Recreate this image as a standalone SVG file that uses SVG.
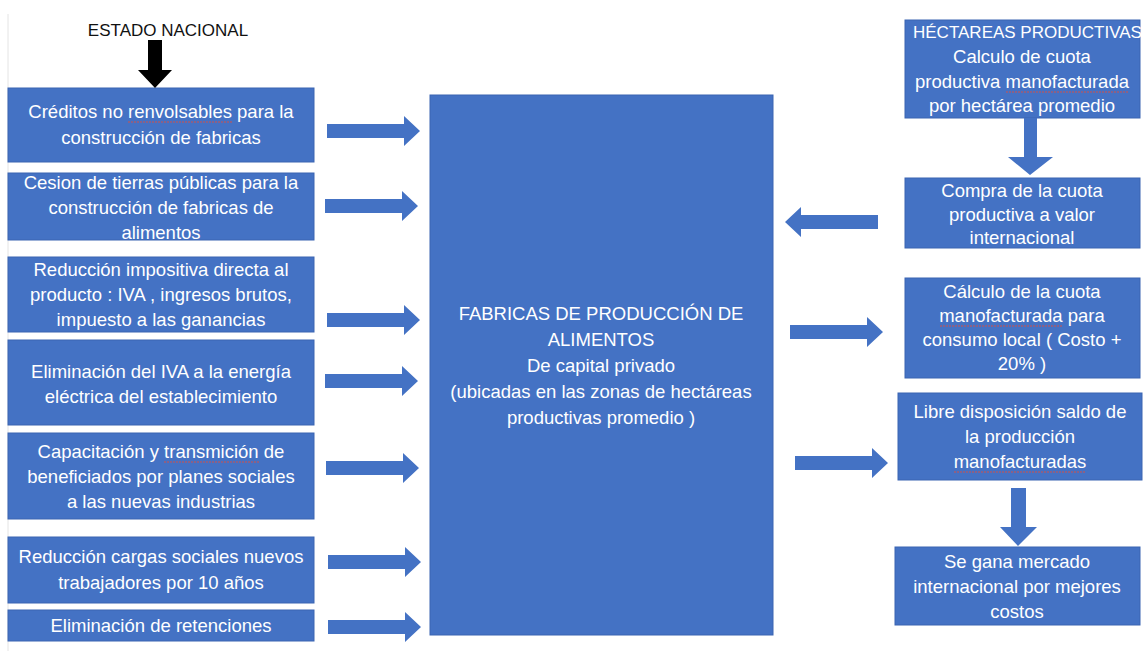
<svg xmlns="http://www.w3.org/2000/svg" xmlns:xlink="http://www.w3.org/1999/xlink" width="1145" height="651" viewBox="0 0 1145 651">
<style>
.box{fill:#4472C4;stroke:#3A64B2;stroke-width:1}
.t{font-family:"Liberation Sans",Arial,sans-serif;font-size:18.5px;fill:#ffffff;text-anchor:middle}
.h{font-family:"Liberation Sans",Arial,sans-serif;font-size:17px;fill:#111111;text-anchor:middle}
.arr{fill:#4472C4}
.sp{stroke:#D0504A;stroke-width:1.2;fill:none;stroke-dasharray:2 1}
</style>
<defs>
<polygon id="rarrow" points="0,-7 77,-7 77,-15 93,0 77,15 77,7 0,7"/>
</defs>
<rect x="0" y="0" width="1145" height="651" fill="#ffffff"/>
<line x1="8" y1="14" x2="8" y2="651" stroke="#e4e4e4" stroke-width="1"/>

<g id="estado">
<text class="h" x="168" y="36">ESTADO NACIONAL</text>
</g>

<g id="creditos">
<rect class="box" x="8" y="88" width="306" height="74"/>
<text class="t" x="161" y="118">Créditos no renvolsables para la</text>
<text class="t" x="161" y="144">construcción de fabricas</text>
<line class="sp" x1="128" y1="122" x2="232" y2="122"/>
</g>
<g id="cesion">
<rect class="box" x="8" y="173" width="306" height="67"/>
<text class="t" x="161" y="189">Cesion de tierras públicas para la</text>
<text class="t" x="161" y="214">construcción de fabricas de</text>
<text class="t" x="161" y="239">alimentos</text>
</g>
<g id="reduccion-impositiva">
<rect class="box" x="8" y="257" width="306" height="75"/>
<text class="t" x="161" y="276">Reducción impositiva directa al</text>
<text class="t" x="161" y="301">producto : IVA , ingresos brutos,</text>
<text class="t" x="161" y="326">impuesto a las ganancias</text>
</g>
<g id="eliminacion-iva">
<rect class="box" x="8" y="340" width="306" height="85"/>
<text class="t" x="161" y="378">Eliminación del IVA a la energía</text>
<text class="t" x="161" y="403">eléctrica del establecimiento</text>
</g>
<g id="capacitacion">
<rect class="box" x="8" y="433" width="306" height="86"/>
<text class="t" x="161" y="458">Capacitación y transmición de</text>
<text class="t" x="161" y="483">beneficiados por planes sociales</text>
<text class="t" x="161" y="508">a las nuevas industrias</text>
<line class="sp" x1="164" y1="462" x2="259" y2="462"/>
</g>
<g id="cargas-sociales">
<rect class="box" x="8" y="537" width="306" height="66"/>
<text class="t" x="161" y="563">Reducción cargas sociales nuevos</text>
<text class="t" x="161" y="589">trabajadores por 10 años</text>
</g>
<g id="retenciones">
<rect class="box" x="8" y="610" width="306" height="31"/>
<text class="t" x="161" y="632">Eliminación de retenciones</text>
</g>

<g id="fabricas">
<rect class="box" x="430" y="95" width="343" height="540"/>
<text class="t" x="601" y="320">FABRICAS DE PRODUCCIÓN DE</text>
<text class="t" x="601" y="346">ALIMENTOS</text>
<text class="t" x="601" y="372">De capital privado</text>
<text class="t" x="601" y="398">(ubicadas en las zonas de hectáreas</text>
<text class="t" x="601" y="424">productivas promedio )</text>
</g>

<g id="hectareas">
<rect class="box" x="905" y="20" width="235" height="98"/>
<text class="t" x="913" y="38" style="text-anchor:start;font-size:17px">HÉCTAREAS PRODUCTIVAS</text>
<text class="t" x="1022" y="63">Calculo de cuota</text>
<text class="t" x="1022" y="88">productiva manofacturada</text>
<text class="t" x="1022" y="112">por hectárea promedio</text>
<line class="sp" x1="1006" y1="92" x2="1129" y2="92"/>
</g>
<g id="compra">
<rect class="box" x="905" y="178" width="235" height="70"/>
<text class="t" x="1022" y="197">Compra de la cuota</text>
<text class="t" x="1022" y="221">productiva a valor</text>
<text class="t" x="1022" y="244">internacional</text>
</g>
<g id="calculo-local">
<rect class="box" x="905" y="278" width="235" height="100"/>
<text class="t" x="1022" y="298">Cálculo de la cuota</text>
<text class="t" x="1022" y="322">manofacturada para</text>
<text class="t" x="1022" y="346">consumo local ( Costo +</text>
<text class="t" x="1022" y="370">20% )</text>
<line class="sp" x1="940" y1="326" x2="1063" y2="326"/>
</g>
<g id="libre-disposicion">
<rect class="box" x="898" y="393" width="244" height="87"/>
<text class="t" x="1020" y="418">Libre disposición saldo de</text>
<text class="t" x="1020" y="443">la producción</text>
<text class="t" x="1020" y="468">manofacturadas</text>
<line class="sp" x1="954" y1="472" x2="1086" y2="472"/>
</g>
<g id="mercado">
<rect class="box" x="895" y="547" width="245" height="78"/>
<text class="t" x="1017" y="568">Se gana mercado</text>
<text class="t" x="1017" y="593">internacional por mejores</text>
<text class="t" x="1017" y="618">costos</text>
</g>

<g id="connectors">
<polygon fill="#000000" points="148,40 162,40 162,70 172,70 155,88 138,70 148,70"/>
<use class="arr" href="#rarrow" xlink:href="#rarrow" x="327" y="131"/>
<use class="arr" href="#rarrow" xlink:href="#rarrow" x="325" y="206"/>
<use class="arr" href="#rarrow" xlink:href="#rarrow" x="327" y="320"/>
<use class="arr" href="#rarrow" xlink:href="#rarrow" x="325" y="381"/>
<use class="arr" href="#rarrow" xlink:href="#rarrow" x="326" y="468"/>
<use class="arr" href="#rarrow" xlink:href="#rarrow" x="328" y="562"/>
<use class="arr" href="#rarrow" xlink:href="#rarrow" x="328" y="627"/>
<use class="arr" href="#rarrow" xlink:href="#rarrow" x="790" y="332"/>
<use class="arr" href="#rarrow" xlink:href="#rarrow" x="795" y="463"/>
<use class="arr" href="#rarrow" xlink:href="#rarrow" transform="translate(878,222) scale(-1,1)"/>
<polygon class="arr" points="1024,118 1037,118 1037,157 1053,157 1030,175 1008,157 1024,157"/>
<polygon class="arr" points="1011,488 1026,488 1026,527 1037,527 1018,546 1000,527 1011,527"/>
</g>
</svg>
